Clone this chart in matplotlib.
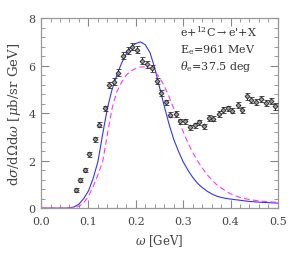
import numpy as np
import matplotlib
matplotlib.use("Agg")
import matplotlib.pyplot as plt
from matplotlib.ticker import MultipleLocator

# data points (omega in GeV, cross section, error)
omega_data = [0.073, 0.082, 0.093, 0.102, 0.113, 0.123, 0.134, 0.143, 0.153, 0.163,
              0.173, 0.183, 0.193, 0.203, 0.213, 0.223, 0.234, 0.244, 0.254, 0.263,
              0.273, 0.285, 0.294, 0.304, 0.315, 0.325, 0.334, 0.344, 0.354, 0.364,
              0.375, 0.385, 0.394, 0.404, 0.415, 0.425, 0.434, 0.444, 0.454, 0.465,
              0.475, 0.485, 0.494]
xs_data = [0.76, 1.18, 1.61, 2.26, 2.89, 3.51, 4.20, 5.19, 5.32, 5.71,
           6.41, 6.62, 6.79, 6.67, 6.20, 6.05, 5.89, 5.36, 4.86, 4.45,
           3.94, 3.97, 3.66, 3.66, 3.40, 3.49, 3.61, 3.44, 3.79, 3.77,
           3.96, 4.13, 4.20, 4.11, 4.35, 4.14, 4.70, 4.56, 4.46, 4.58,
           4.42, 4.52, 4.28]
xs_err = [0.07, 0.07, 0.08, 0.09, 0.10, 0.11, 0.12, 0.13, 0.14, 0.14,
          0.15, 0.15, 0.15, 0.15, 0.15, 0.15, 0.14, 0.13, 0.13, 0.12,
          0.12, 0.12, 0.11, 0.11, 0.11, 0.11, 0.11, 0.11, 0.11, 0.11,
          0.12, 0.12, 0.12, 0.12, 0.12, 0.12, 0.13, 0.13, 0.13, 0.13,
          0.13, 0.13, 0.13]

# model curves
omega_curve = [0.00, 0.02, 0.04, 0.05, 0.06, 0.07, 0.08, 0.09, 0.10, 0.11,
               0.12, 0.13, 0.14, 0.15, 0.16, 0.17, 0.18, 0.19, 0.20, 0.21,
               0.22, 0.23, 0.24, 0.25, 0.26, 0.27, 0.28, 0.29, 0.30, 0.31,
               0.32, 0.33, 0.34, 0.35, 0.36, 0.37, 0.38, 0.39, 0.40, 0.42,
               0.44, 0.46, 0.48, 0.50]
blue_curve = [0.0, 0.0, 0.0, 0.0, 0.01, 0.05, 0.17, 0.40, 0.72, 1.25,
              1.95, 3.10, 4.20, 5.00, 5.60, 6.10, 6.50, 6.78, 6.93, 7.00,
              6.88, 6.55, 5.90, 5.10, 4.30, 3.55, 2.90, 2.40, 1.95, 1.60,
              1.30, 1.05, 0.87, 0.72, 0.60, 0.51, 0.45, 0.41, 0.38, 0.33,
              0.28, 0.25, 0.23, 0.21]
magenta_curve = [0.0, 0.0, 0.0, 0.0, 0.0, 0.02, 0.08, 0.22, 0.50, 0.90,
                 1.40, 1.95, 3.10, 4.20, 4.90, 5.30, 5.60, 5.78, 5.88, 5.94,
                 5.95, 5.90, 5.75, 5.50, 5.15, 4.70, 4.20, 3.70, 3.22, 2.75,
                 2.35, 2.00, 1.70, 1.42, 1.20, 1.00, 0.85, 0.72, 0.60, 0.45,
                 0.36, 0.30, 0.27, 0.24]

plt.rcParams['font.family'] = 'DejaVu Serif'
plt.rcParams['mathtext.fontset'] = 'dejavuserif'

fig = plt.figure(figsize=(2.91, 2.55), dpi=100)
ax = fig.add_axes([0.141, 0.180, 0.814, 0.745])

ax.plot(omega_curve, blue_curve, color='#3333ff', lw=0.8)
ax.plot(omega_curve, magenta_curve, color='#ff33ff', lw=0.8, dashes=(5, 3))
ax.errorbar(omega_data, xs_data, yerr=xs_err, fmt='D', ms=2.5, mfc='#999999',
            mec='#222222', mew=0.6, ecolor='#333333', elinewidth=0.7,
            capsize=1.8, capthick=0.7, zorder=5)

ax.set_xlim(0, 0.5)
ax.set_ylim(0, 8)
ax.xaxis.set_major_locator(MultipleLocator(0.1))
ax.xaxis.set_minor_locator(MultipleLocator(0.02))
ax.yaxis.set_major_locator(MultipleLocator(2))
ax.yaxis.set_minor_locator(MultipleLocator(0.4))
ax.tick_params(which='both', direction='in', top=True, right=True,
               color='#888888', labelcolor='#444444', labelsize=8)
ax.tick_params(which='major', length=6, width=0.8)
ax.tick_params(which='minor', length=3, width=0.6)
ax.tick_params(axis='x', which='major', pad=6)
ax.tick_params(axis='y', which='major', pad=4)
ax.xaxis.set_major_formatter(matplotlib.ticker.FormatStrFormatter('%.1f'))
for s in ax.spines.values():
    s.set_color('#999999')
    s.set_linewidth(0.9)

ax.set_xlabel(r'$\omega$ [GeV]', fontsize=8.5, color='#444444', labelpad=4)
ax.set_ylabel(r'd$\sigma$/d$\Omega$d$\omega$ [$\mu$b/sr GeV]', fontsize=9.5,
              color='#444444', labelpad=4)

ax.text(0.585, 0.91, r"e+$^{12}$C$\rightarrow$e'+X", transform=ax.transAxes,
        fontsize=8, color='#333333')
ax.text(0.585, 0.82, r"E$_\mathrm{e}$=961 MeV", transform=ax.transAxes,
        fontsize=8, color='#333333')
ax.text(0.585, 0.73, r"$\theta_\mathrm{e}$=37.5 deg", transform=ax.transAxes,
        fontsize=8, color='#333333')

fig.savefig('out.png', dpi=100)
